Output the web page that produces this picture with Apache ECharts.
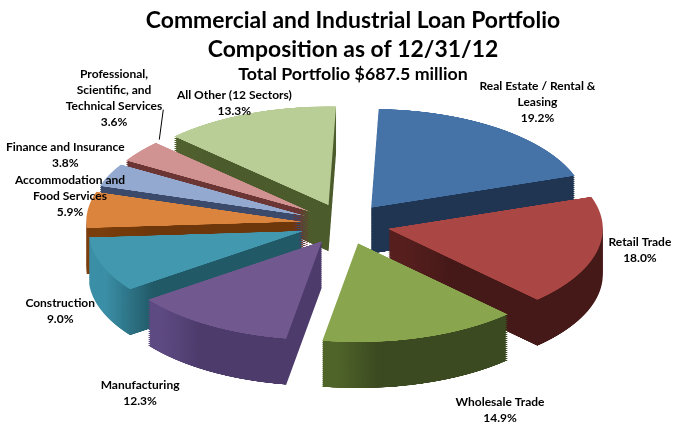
<!DOCTYPE html>
<html><head><meta charset="utf-8">
<script src="https://cdn.jsdelivr.net/npm/echarts@6/dist/echarts.min.js"></script>
<style>
html,body{margin:0;padding:0;background:#fff}
#wrap{position:relative;width:681px;height:440px;overflow:hidden}
#a{position:absolute;left:0;top:0;width:681px;transform-origin:0 0}
#b{position:absolute;left:0;top:0;width:681px;height:440px}
</style>
</head><body><div id="wrap"><div id="a"></div><div id="b"></div></div>
<script>
// ---- data ----
const categories = ["Real Estate / Rental &\nLeasing","Retail Trade","Wholesale Trade","Manufacturing","Construction","Accommodation and\nFood Services","Finance and Insurance","Professional,\nScientific, and\nTechnical Services","All Other (12 Sectors)"];
const shares = [19.2,18.0,14.9,12.3,9.0,5.9,3.8,3.6,13.3];
const topColors = ["#4573A7","#AA4643","#89A54E","#71588F","#4198AF","#DB843D","#93A9CF","#D19392","#B9CD96"];
const sideLight = ["#1F3552","#561F1E","#4F6429","#5E4A82","#3A8EA5","#7A3D0C","#3B4A6B","#6B3533","#50602F"];
const sideDark  = ["#1F3552","#451918","#3C4A21","#4C3B6B","#215967","#6E370B","#3B4A6B","#6B3533","#4C5B2C"];

// ---- layout (screen px) ----
const CX = 345, CY = 224, K = 0.46, R = 215, EXPLODE = 44, DEPTH = 46, STEP = 2, START = 88;
// label tweaks: radial length, horizontal length, vertical nudge
const labelTweak = [
  {L:93, l2:9, dy:-8}, {L:77, l2:11, dy:-5}, {L:213, l2:28, dy:-2}, {L:175, l2:0, dy:16},
  {L:88, l2:0, dy:40}, {L:62, l2:0, dy:-13}, {L:92, l2:0, dy:-11}, {L:20, l2:0, dy:0}, {L:49, l2:12, dy:-8}
];

const sideColor = i => ({type:'linear', x:0, y:0, x2:1, y2:0,
  colorStops:[{offset:0, color:sideLight[i]}, {offset:0.08, color:sideLight[i]}, {offset:0.3, color:sideDark[i]}, {offset:1, color:sideDark[i]}]});

// ---- chart A: slices, squashed vertically for a tilted look ----
const aDiv = document.getElementById('a');
aDiv.style.height = (440 / K) + 'px';
aDiv.style.transform = 'scaleY(' + K + ')';
const chartA = echarts.init(aDiv, null, {devicePixelRatio: 2});
const seriesA = [];
for (let d = DEPTH; d > 0; d -= STEP) {
  seriesA.push({
    type:'pie', silent:true, radius:R, center:[CX, (CY + d) / K], startAngle:START,
    selectedMode:'multiple', selectedOffset:EXPLODE, animation:false,
    label:{show:false}, labelLine:{show:false}, emphasis:{disabled:true},
    data: categories.map((n,i)=>({name:n, value:shares[i], selected:true, itemStyle:{color:sideColor(i)}}))
  });
}
seriesA.push({
  type:'pie', silent:true, radius:R, center:[CX, CY / K], startAngle:START,
  selectedMode:'multiple', selectedOffset:EXPLODE, animation:false,
  label:{show:false}, labelLine:{show:false}, emphasis:{disabled:true},
  data: categories.map((n,i)=>({name:n, value:shares[i], selected:true, itemStyle:{color:topColors[i]}}))
});
chartA.setOption({animation:false, series: seriesA});

// ---- chart B: title and labels (unsquashed text) ----
const chartB = echarts.init(document.getElementById('b'));
const sq = y => CY + (y - CY) * K;
chartB.setOption({
  animation:false,
  title:{text:'Commercial and Industrial Loan Portfolio\nComposition as of 12/31/12', subtext:'Total Portfolio $687.5 million',
    left:353, textAlign:'center', top:6, itemGap:0, padding:0,
    textStyle:{fontFamily:'Lato', fontWeight:'bold', fontSize:22.9, lineHeight:29, color:'#000'},
    subtextStyle:{fontFamily:'Lato', fontWeight:'bold', fontSize:17.8, lineHeight:20, color:'#000'}},
  series:[{
    type:'pie', silent:true, radius:R, center:[CX, CY], startAngle:START, avoidLabelOverlap:false,
    minShowLabelAngle:0, itemStyle:{color:'rgba(0,0,0,0)'}, emphasis:{disabled:true},
    label:{show:true, position:'outside', color:'#000', fontFamily:'Lato', fontWeight:'bold', fontSize:12, lineHeight:16,
      formatter: p => p.name + '\n' + p.value.toFixed(1) + '%'},
    labelLine:{show:true, lineStyle:{color:'rgba(0,0,0,0)', width:1}},
    labelLayout: function (p) {
      const i = p.dataIndex, t = labelTweak[i];
      const pts = p.labelLinePoints;
      if (!pts) return {};
      if (i === 7) {
        const th = Math.atan2(-(pts[0][1] - CY), pts[0][0] - CX) - 7 * Math.PI / 180;
        const rr = R + EXPLODE + 2;
        const s = [CX + Math.cos(th) * rr, CY - Math.sin(th) * rr * K];
        const e = [s[0] + 4, s[1] - 30];
        return {x: e[0] - p.labelRect.width / 2 - 1, y: e[1] - 12, align:'center', verticalAlign:'middle',
          labelLinePoints:[s, e]};
      }
      const end = pts[pts.length - 1];
      return {x: end[0], y: sq(end[1]) + t.dy, align:'center', verticalAlign:'middle'};
    },
    data: categories.map((n,i)=>({name:n, value:shares[i],
      labelLine: i === 7 ? {show:true, length:labelTweak[i].L, length2:0, lineStyle:{color:'#000', width:1}}
                         : {length:labelTweak[i].L, length2:labelTweak[i].l2}}))
  }]
});
</script></body></html>
